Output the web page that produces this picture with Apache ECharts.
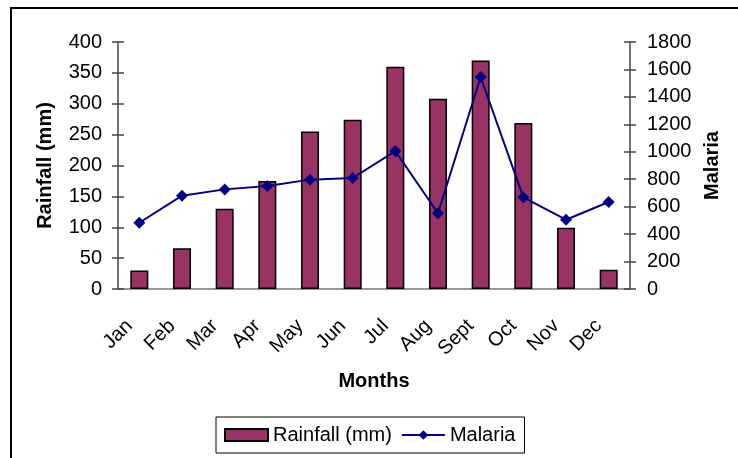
<!DOCTYPE html>
<html>
<head>
<meta charset="utf-8">
<script src="https://cdn.jsdelivr.net/npm/echarts@6/dist/echarts.min.js"></script>
<style>
html,body{margin:0;padding:0;background:#fff;}
#main{width:738px;height:458px;}
</style>
</head>
<body>
<div id="main"></div>
<script>
var months = ['Jan','Feb','Mar','Apr','May','Jun','Jul','Aug','Sept','Oct','Nov','Dec'];
var rainfall = [30, 66, 130, 175, 255, 274, 360, 308, 370, 269, 99, 31];
var malaria = [483, 680, 726, 751, 797, 809, 1005, 552, 1545, 668, 505, 634];

var font = 'Liberation Sans, Arial, sans-serif';
var myChart = echarts.init(document.getElementById('main'));

var gridPos = {left: 118, right: 108, top: 42, bottom: 169};

var option = {
    animation: false,
    textStyle: {fontFamily: font},
    graphic: [{
        type: 'rect',
        shape: {x: 11, y: 8, width: 760, height: 480},
        style: {fill: 'none', stroke: '#000', lineWidth: 2},
        silent: true
    }],
    legend: {
        left: 216,
        top: 417,
        padding: [8, 9, 8, 8],
        itemGap: 9,
        itemWidth: 43,
        itemHeight: 12,
        borderColor: '#000',
        borderWidth: 1,
        textStyle: {fontSize: 20, color: '#000', fontFamily: font},
        data: [
            {name: 'Rainfall (mm)', icon: 'rect'},
            {name: 'Malaria'}
        ]
    },
    grid: [
        Object.assign({}, gridPos),
        Object.assign({}, gridPos)
    ],
    xAxis: [{
        type: 'category',
        gridIndex: 0,
        data: months,
        name: 'Months',
        nameLocation: 'middle',
        nameGap: 82,
        nameTextStyle: {fontSize: 20, fontWeight: 'bold', color: '#000', fontFamily: font},
        axisLine: {lineStyle: {color: '#777', width: 1.5}},
        axisTick: {length: 6, lineStyle: {color: '#777', width: 1.5}},
        axisLabel: {rotate: 45, fontSize: 20, color: '#000', margin: 24, padding: [0, 14, 0, 0], interval: 0}
    }, {
        type: 'category',
        gridIndex: 1,
        data: months,
        axisLine: {show: false},
        axisTick: {inside: true, length: 8, lineStyle: {color: '#777', width: 1.5}},
        axisLabel: {show: false}
    }],
    yAxis: [{
        type: 'value',
        gridIndex: 0,
        position: 'left',
        min: 0, max: 400, interval: 50,
        name: 'Rainfall (mm)',
        nameLocation: 'middle',
        nameGap: 63,
        nameTextStyle: {fontSize: 20, fontWeight: 'bold', color: '#000', fontFamily: font},
        axisLine: {show: true, lineStyle: {color: '#444', width: 1.5}},
        axisTick: {show: true, length: 6, lineStyle: {color: '#444', width: 1.5}},
        axisLabel: {fontSize: 20, color: '#000', margin: 16},
        splitLine: {show: false}
    }, {
        type: 'value',
        gridIndex: 0,
        position: 'right',
        min: 0, max: 1800, interval: 200,
        name: 'Malaria',
        nameLocation: 'middle',
        nameGap: 70,
        nameRotate: 90,
        nameTextStyle: {fontSize: 20, fontWeight: 'bold', color: '#000', fontFamily: font},
        axisLine: {show: true, lineStyle: {color: '#444', width: 1.5}},
        axisTick: {show: true, length: 6, lineStyle: {color: '#444', width: 1.5}},
        axisLabel: {fontSize: 20, color: '#000', margin: 17, formatter: function (v) { return String(v); }},
        splitLine: {show: false}
    }, {
        type: 'value',
        gridIndex: 1,
        position: 'left',
        min: 0, max: 400, interval: 50,
        axisLine: {show: false},
        axisTick: {show: true, inside: true, length: 6, lineStyle: {color: '#444', width: 1.5}},
        axisLabel: {show: false},
        splitLine: {show: false}
    }, {
        type: 'value',
        gridIndex: 1,
        position: 'right',
        min: 0, max: 1800, interval: 200,
        axisLine: {show: false},
        axisTick: {show: true, inside: true, length: 6, lineStyle: {color: '#444', width: 1.5}},
        axisLabel: {show: false},
        splitLine: {show: false}
    }],
    series: [{
        name: 'Rainfall (mm)',
        type: 'bar',
        xAxisIndex: 0,
        yAxisIndex: 0,
        barWidth: 18,
        itemStyle: {color: '#993366', borderColor: '#000', borderWidth: 1.5},
        data: rainfall
    }, {
        name: 'Malaria',
        type: 'line',
        xAxisIndex: 0,
        yAxisIndex: 1,
        symbol: 'diamond',
        symbolSize: 12,
        lineStyle: {color: '#000080', width: 2},
        itemStyle: {color: '#000080'},
        data: malaria
    }]
};
myChart.setOption(option);
</script>
</body>
</html>
